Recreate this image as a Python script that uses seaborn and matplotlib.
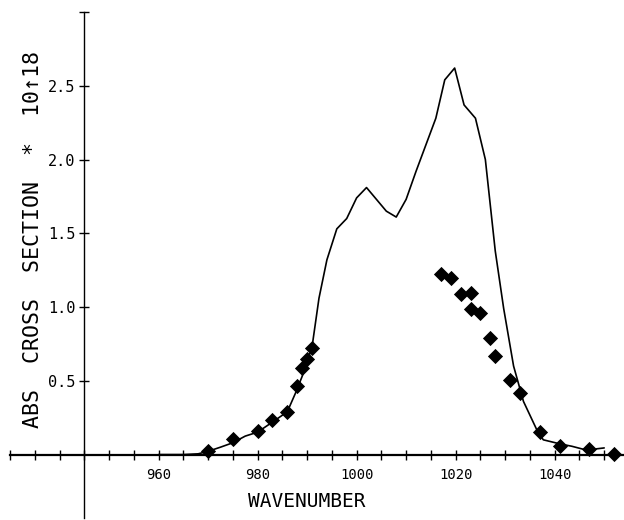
import matplotlib
matplotlib.use("Agg")
import matplotlib.pyplot as plt
import seaborn as sns
import pandas as pd

# calculated spectrum (solid line)
line_x = [960, 965, 968, 970, 972.5, 975, 977.5, 980, 983, 986, 987.7, 989, 991,
          992.4, 994, 996, 998, 1000, 1002, 1006, 1008, 1010, 1012, 1014, 1016,
          1017.8, 1019.8, 1021.7, 1024, 1026, 1028, 1029.7, 1031.7, 1033.7,
          1036.5, 1037.7, 1041, 1043.5, 1046.8, 1048.5, 1050]
line_y = [0.0, 0.0, 0.005, 0.022, 0.05, 0.08, 0.125, 0.152, 0.22, 0.29, 0.42, 0.53, 0.73,
          1.06, 1.32, 1.53, 1.60, 1.74, 1.81, 1.65, 1.61, 1.73, 1.92, 2.10, 2.28,
          2.54, 2.62, 2.37, 2.28, 2.00, 1.38, 0.99, 0.60, 0.36,
          0.16, 0.10, 0.073, 0.056, 0.027, 0.039, 0.045]

# measured points (diamonds)
pts_x = [970, 975, 980, 983, 986, 988, 989, 990, 991,
         1017, 1019, 1021, 1023, 1023, 1025, 1027, 1028, 1031, 1033,
         1037, 1041, 1047, 1052]
pts_y = [0.025, 0.107, 0.163, 0.236, 0.29, 0.465, 0.587, 0.646, 0.719,
         1.222, 1.195, 1.088, 1.093, 0.986, 0.957, 0.789, 0.669, 0.506, 0.415,
         0.154, 0.057, 0.039, 0.007]

x_ticks = list(range(930, 1055, 5))
x_labels = [960, 980, 1000, 1020, 1040]
y_ticks = [0.5, 1.0, 1.5, 2.0, 2.5, 3.0]
y_labels = ["0.5", "1.0", "1.5", "2.0", "2.5", ""]

sns.set_theme(style="white")
plt.rcParams["font.family"] = ["DejaVu Sans Mono", "DejaVu Sans"]

fig = plt.figure(figsize=(6.24, 5.2), dpi=100)
ax = fig.add_axes([10 / 624, 2 / 520, 614 / 624, 506 / 520])

line_df = pd.DataFrame({"x": line_x, "y": line_y})
pts_df = pd.DataFrame({"x": pts_x, "y": pts_y})

sns.lineplot(data=line_df, x="x", y="y", ax=ax, color="black", linewidth=1.2,
             sort=False, estimator=None)
sns.scatterplot(data=pts_df, x="x", y="y", ax=ax, marker="D", s=60,
                color="black", edgecolor="black", linewidth=0, zorder=5,
                clip_on=False)

ax.set_xlim(930, 1054)
ax.set_ylim(-0.43, 3.0)

for s in ["top", "right"]:
    ax.spines[s].set_visible(False)
ax.spines["left"].set_position(("data", 945))
ax.spines["bottom"].set_position(("data", 0))
ax.spines["left"].set_color("black")
ax.spines["bottom"].set_color("black")
ax.spines["left"].set_linewidth(1.0)
ax.spines["bottom"].set_linewidth(1.6)

ax.set_xticks(x_ticks)
ax.set_xticklabels([str(t) if t in x_labels else "" for t in x_ticks])
ax.set_yticks(y_ticks)
ax.set_yticklabels(y_labels)
ax.tick_params(axis="x", direction="inout", length=7, width=1.0, colors="black",
               labelsize=10, pad=6, bottom=True)
ax.tick_params(axis="y", direction="inout", length=7, width=1.0, colors="black",
               labelsize=11, pad=3, left=True)

ax.set_xlabel("")
ax.set_ylabel("")
ax.text(990, -0.32, "WAVENUMBER", ha="center", va="center", fontsize=14,
        color="black")
fig.text(33 / 624, 1 - 240 / 520, "ABS  CROSS  SECTION  *  10\u219118",
         rotation=90, ha="center", va="center", fontsize=15.5, color="black")

fig.savefig("out.png", dpi=100)
